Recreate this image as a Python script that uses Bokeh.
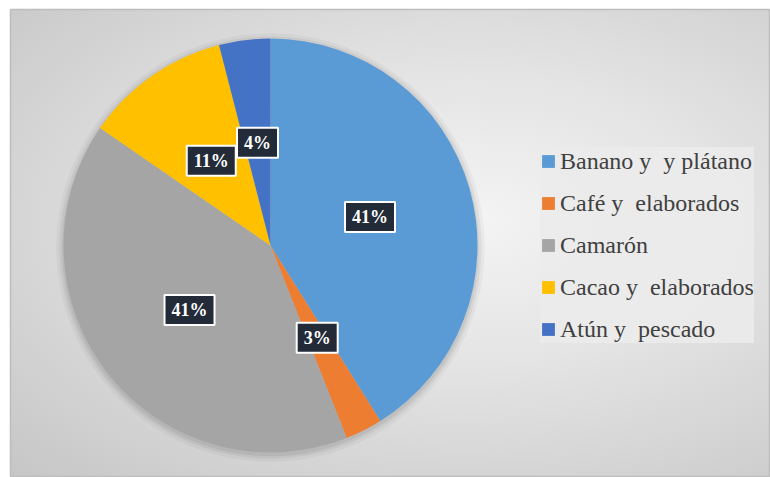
import numpy as np
from bokeh.plotting import figure
from bokeh.models import Range1d, Label, Legend, LegendItem, ColumnDataSource
from bokeh.core.properties import field
from bokeh.embed import file_html
from bokeh.resources import INLINE

# ---- data ----
categories = ["Banano y  y plátano", "Café y  elaborados", "Camarón",
              "Cacao y  elaborados", "Atún y  pescado"]
shares = [41.1, 2.9, 40.6, 11.4, 4.0]
colors = ["#5B9BD5", "#ED7D31", "#A5A5A5", "#FFC000", "#4472C4"]

# ---- layout ----
W, H = 770, 477
BL, BT = 10, 9          # blank margin left / top
FW, FH = W - BL, H - BT  # frame size
R_PX = 207
CX, CY = 270 - BL, 245 - BT  # pie centre, px from frame top-left

p = figure(width=W, height=H, output_backend="svg", toolbar_location=None,
           x_range=Range1d(-CX / R_PX, (FW - CX) / R_PX),
           y_range=Range1d(-(FH - CY) / R_PX, CY / R_PX),
           x_axis_location=None, y_axis_location=None,
           min_border_left=BL, min_border_top=BT, min_border_right=0, min_border_bottom=0)
p.grid.visible = False
p.background_fill_alpha = 0
p.border_fill_alpha = 0
p.outline_line_color = "#bdbdbd"
p.outline_line_width = 1.5
p.styles = {"background": "radial-gradient(ellipse farthest-corner at 60% 45%, "
                          "#f4f4f4 0%, #e4e4e4 40%, #c6c6c6 100%) "
                          f"{BL}px {BT}px / {FW}px {FH}px no-repeat, #ffffff"}

vals = np.array(shares, dtype=float)
frac = vals / vals.sum()
cum_end = np.cumsum(frac)
cum_start = cum_end - frac
start = np.pi / 2 - 2 * np.pi * cum_end
end = np.pi / 2 - 2 * np.pi * cum_start
mid = (start + end) / 2

src = ColumnDataSource(dict(cat=categories, start=start, end=end, color=colors))

# soft shadow under the pie
for rr, a in [(1.035, 0.035), (1.02, 0.05), (1.008, 0.06)]:
    p.circle(x=0, y=-0.01, radius=rr, fill_color="black", fill_alpha=a, line_color=None)

r = p.wedge(x=0, y=0, radius=1, start_angle="start", end_angle="end",
            fill_color="color", line_color=None, source=src)

# data labels
for m, fr in zip(mid, frac):
    lx, ly = 0.5 * np.cos(m), 0.5 * np.sin(m)
    txt = f"{round(fr * 100)}%"
    common = dict(x=lx, y=ly, text=txt, text_align="center", text_baseline="middle",
                  text_font="Liberation Serif", text_font_style="bold",
                  text_font_size="18px", padding=(7, 5))
    for off, a in [(5, 0.10), (4, 0.14), (3, 0.18)]:
        p.add_layout(Label(**common, x_offset=off, y_offset=-off, text_alpha=0,
                           background_fill_color="black", background_fill_alpha=a,
                           border_line_color=None))
    p.add_layout(Label(**common, text_color="white", background_fill_color="#232b38",
                       border_line_color="white", border_line_width=2))

legend = Legend(items=[LegendItem(label=field("cat"), renderers=[r])],
                location=(540 - BL, H - 343), orientation="vertical",
                label_text_font="Liberation Serif", label_text_font_size="24px",
                label_text_color="#404040", glyph_width=16, glyph_height=16,
                label_height=28, label_standoff=4, spacing=14, padding=10,
                background_fill_color="#ebebeb", background_fill_alpha=0.9,
                border_line_color=None)
p.add_layout(legend)

open("out.html", "w").write(file_html(p, INLINE))
